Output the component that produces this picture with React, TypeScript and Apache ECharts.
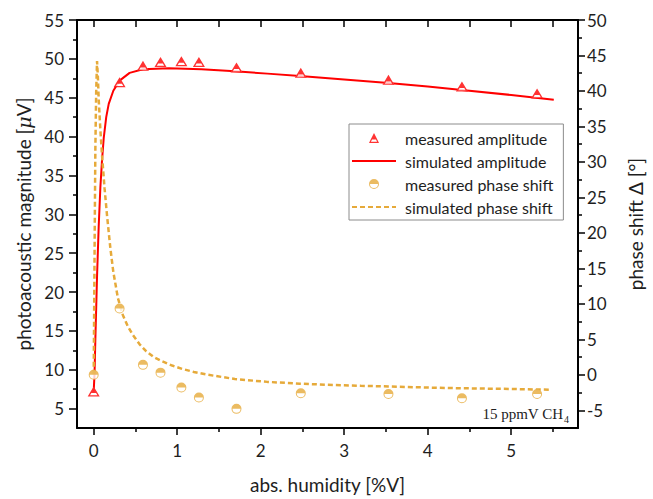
import React, { useEffect, useRef } from 'react';
import * as echarts from 'echarts';

// ---- data ----
const measuredX = [0, 0.31, 0.59, 0.8, 1.05, 1.26, 1.71, 2.48, 3.53, 4.41, 5.31];
const measuredAmplitude = [7.2, 47.0, 49.1, 49.6, 49.7, 49.6, 48.9, 48.2, 47.3, 46.45, 45.55];
const measuredPhase = [0.0, 9.35, 1.4, 0.3, -1.8, -3.2, -4.8, -2.6, -2.7, -3.3, -2.7];

const simAmpX = [0, 0.01, 0.02, 0.04, 0.06, 0.08, 0.1, 0.12, 0.15, 0.18, 0.235, 0.31, 0.43, 0.59, 0.9, 1.29, 1.69, 2.08, 2.47, 3.0, 3.53, 4.0, 4.41, 5.0, 5.51];
const simAmpY = [7.2, 9.5, 14, 22, 28.5, 33.5, 37, 39.8, 42.5, 44.2, 45.9, 47.2, 48.2, 48.66, 48.8, 48.66, 48.4, 48.1, 47.8, 47.35, 46.9, 46.45, 46.0, 45.35, 44.75];

const simPhaseX = [0, 0.005, 0.012, 0.02, 0.03, 0.04, 0.05, 0.06, 0.08, 0.1, 0.13, 0.16, 0.2, 0.235, 0.29, 0.35, 0.41, 0.47, 0.55, 0.63, 0.72, 0.82, 0.94, 1.06, 1.2, 1.37, 1.69, 2.08, 2.47, 2.78, 3.2, 3.53, 4.0, 4.41, 5.0, 5.45];
const simPhaseY = [0, 8, 20, 32, 40, 44.2, 42, 38.8, 34.5, 30.9, 26.3, 22.4, 17.8, 14.5, 10.8, 8.4, 6.8, 5.6, 4.3, 3.3, 2.5, 1.9, 1.3, 0.83, 0.4, 0.0, -0.6, -1.0, -1.25, -1.4, -1.55, -1.65, -1.8, -1.9, -2.0, -2.1];

const xMajorTicks = [0, 1, 2, 3, 4, 5];
const xMinorTicks = [0.5, 1.5, 2.5, 3.5, 4.5, 5.5];
const xTopTicks = [0, 0.5, 1, 1.5, 2, 2.5, 3, 3.5, 4, 4.5, 5, 5.5];
const leftMajorTicks = [5, 10, 15, 20, 25, 30, 35, 40, 45, 50, 55];
const leftMinorTicks = [7.5, 12.5, 17.5, 22.5, 27.5, 32.5, 37.5, 42.5, 47.5, 52.5];
const rightMajorTicks = [-5, 0, 5, 10, 15, 20, 25, 30, 35, 40, 45, 50];
const rightMinorTicks = [-2.5, 2.5, 7.5, 12.5, 17.5, 22.5, 27.5, 32.5, 37.5, 42.5, 47.5];

const seriesNames = ['measured amplitude', 'simulated amplitude', 'measured phase shift', 'simulated phase shift'];

const RED = '#FF0000';
const GOLD = '#E6AA3A';
const FONT = 'Lato';
const TXT = '#1e1e1e';

const TRI_PATH =
  'path://M50,0 L83,66 L17,66 Z M17,66 L0,100 L100,100 L83,66 L69.6,66 L80.6,88 L19.4,88 L30.4,66 Z';
const CIRC_PATH =
  'path://M0,50 A50,50 0 0 1 100,50 Z M100,50 A50,50 0 0 1 0,50 L10,50 A40,40 0 0 0 90,50 Z';

const zip = (a: number[], b: number[]) => a.map((v, i) => [v, b[i]]);

const blackLine = { color: '#000', width: 2 };
const tickLine = { color: '#000', width: 1.5 };
const noSymbol = { color: 'rgba(0,0,0,0)', borderWidth: 0, opacity: 0 };

export default function App() {
  const ref = useRef<HTMLDivElement>(null);
  useEffect(() => {
    if (!ref.current) return;
    const chart = echarts.init(ref.current, undefined, { renderer: 'svg' });
    const hiddenX = {
      type: 'value', min: -0.2, max: 5.8,
      splitLine: { show: false },
      axisLabel: { show: false },
    };
    const option: any = {
      animation: false,
      backgroundColor: '#ffffff',
      textStyle: { fontFamily: FONT },
      grid: { left: 77, right: 68, top: 20, bottom: 69, containLabel: false },
      legend: {
        orient: 'vertical',
        left: 349,
        top: 124,
        backgroundColor: '#ffffff',
        borderColor: '#8c8c8c',
        borderWidth: 1,
        borderRadius: 0,
        padding: [6, 10, 5, 2],
        itemWidth: 44,
        itemHeight: 10,
        itemGap: 7,
        textStyle: { fontSize: 16, color: TXT, lineHeight: 16, fontFamily: FONT, padding: [0, 0, 0, 4] },
        data: [
          { name: seriesNames[0] },
          { name: seriesNames[1], itemStyle: noSymbol },
          { name: seriesNames[2] },
          { name: seriesNames[3], itemStyle: noSymbol },
        ],
      },
      xAxis: [
        {
          type: 'value', min: -0.2, max: 5.8, position: 'bottom',
          axisLine: { show: true, onZero: false, lineStyle: blackLine },
          axisTick: { show: true, inside: false, length: 7, customValues: xMajorTicks, lineStyle: tickLine },
          axisLabel: { show: true, customValues: xMajorTicks, margin: 14, fontSize: 17, color: TXT, fontFamily: FONT },
          splitLine: { show: false },
          name: 'abs. humidity [%V]', nameLocation: 'middle', nameGap: 47,
          nameTextStyle: { fontSize: 19, color: TXT, fontFamily: FONT },
        },
        {
          ...hiddenX, position: 'bottom',
          axisLine: { show: false, onZero: false },
          axisTick: { show: true, inside: false, length: 4, customValues: xMinorTicks, lineStyle: tickLine },
        },
        {
          ...hiddenX, position: 'top',
          axisLine: { show: true, onZero: false, lineStyle: blackLine },
          axisTick: { show: true, inside: true, length: 7, customValues: xTopTicks, lineStyle: tickLine },
        },
      ],
      yAxis: [
        {
          type: 'value', min: 2.5, max: 55, position: 'left',
          axisLine: { show: true, onZero: false, lineStyle: blackLine },
          axisTick: { show: true, inside: false, length: 8, customValues: leftMajorTicks, lineStyle: tickLine },
          axisLabel: { show: true, customValues: leftMajorTicks, margin: 13, fontSize: 17, color: TXT, fontFamily: FONT },
          splitLine: { show: false },
          name: 'photoacoustic magnitude [{i|μ}V]', nameLocation: 'middle', nameGap: 42, nameRotate: 90,
          nameTextStyle: {
            fontSize: 19, color: TXT, fontFamily: FONT,
            rich: { i: { fontSize: 19, fontStyle: 'italic', color: TXT, fontFamily: 'DejaVu Serif' } },
          },
        },
        {
          type: 'value', min: -7.5, max: 50, position: 'right',
          axisLine: { show: true, onZero: false, lineStyle: blackLine },
          axisTick: { show: true, inside: false, length: 7, customValues: rightMajorTicks, lineStyle: tickLine },
          axisLabel: { show: true, customValues: rightMajorTicks, margin: 9, fontSize: 17, color: TXT, fontFamily: FONT },
          splitLine: { show: false },
          name: 'phase shift Δ [°]', nameLocation: 'middle', nameGap: 48, nameRotate: 90,
          nameTextStyle: { fontSize: 19, color: TXT, fontFamily: FONT },
        },
        {
          type: 'value', min: 2.5, max: 55, position: 'left',
          axisLine: { show: false, onZero: false },
          axisTick: { show: true, inside: false, length: 4, customValues: leftMinorTicks, lineStyle: tickLine },
          axisLabel: { show: false },
          splitLine: { show: false },
        },
        {
          type: 'value', min: -7.5, max: 50, position: 'right',
          axisLine: { show: false, onZero: false },
          axisTick: { show: true, inside: false, length: 4, customValues: rightMinorTicks, lineStyle: tickLine },
          axisLabel: { show: false },
          splitLine: { show: false },
        },
      ],
      series: [
        {
          name: 'simulated amplitude', type: 'line', xAxisIndex: 0, yAxisIndex: 0,
          data: zip(simAmpX, simAmpY), showSymbol: false, symbol: 'none',
          lineStyle: { color: RED, width: 2 }, itemStyle: { color: RED }, z: 2,
        },
        {
          name: 'simulated phase shift', type: 'line', xAxisIndex: 0, yAxisIndex: 1,
          data: zip(simPhaseX, simPhaseY), showSymbol: false, symbol: 'none',
          lineStyle: { color: GOLD, width: 2.5, type: [5, 3] }, itemStyle: { color: GOLD }, z: 2,
        },
        {
          name: 'amp-bg', type: 'scatter', xAxisIndex: 0, yAxisIndex: 0,
          data: zip(measuredX, measuredAmplitude), symbol: 'triangle', symbolSize: [11, 9],
          itemStyle: { color: '#ffffff' }, silent: true, z: 3,
        },
        {
          name: 'phase-bg', type: 'scatter', xAxisIndex: 0, yAxisIndex: 1,
          data: zip(measuredX, measuredPhase), symbol: 'circle', symbolSize: 9,
          itemStyle: { color: '#ffffff' }, silent: true, z: 3,
        },
        {
          name: 'measured amplitude', type: 'scatter', xAxisIndex: 0, yAxisIndex: 0,
          data: zip(measuredX, measuredAmplitude), symbol: TRI_PATH, symbolSize: [12, 10],
          itemStyle: { color: RED }, z: 4,
        },
        {
          name: 'measured phase shift', type: 'scatter', xAxisIndex: 0, yAxisIndex: 1,
          data: zip(measuredX, measuredPhase), symbol: CIRC_PATH, symbolSize: 10,
          itemStyle: { color: GOLD }, z: 4,
        },
      ],
      graphic: [
        {
          type: 'text', x: 563, y: 414, z: 10,
          style: { text: '15 ppmV CH', align: 'right', verticalAlign: 'middle', fontSize: 15, fontFamily: 'Liberation Serif', fill: '#222' },
        },
        {
          type: 'text', x: 564, y: 419, z: 10,
          style: { text: '4', align: 'left', verticalAlign: 'middle', fontSize: 10, fontFamily: 'Liberation Serif', fill: '#222' },
        },
      ],
    };
    chart.setOption(option);
    return () => chart.dispose();
  }, []);
  return <div ref={ref} style={{ width: 653, height: 499, position: 'absolute', left: 0, top: 0 }} />;
}
